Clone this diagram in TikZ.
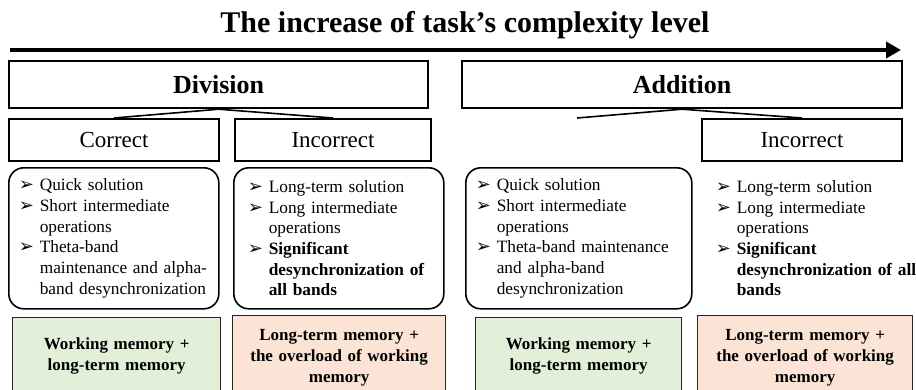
\documentclass[tikz,border=0pt]{standalone}
\usepackage{fontspec}
\setmainfont{Liberation Serif}
\newfontfamily\arrowfont{DejaVu Sans}
\usetikzlibrary{arrows.meta}
\definecolor{MemGreen}{HTML}{E2EFD9}
\definecolor{MemPeach}{HTML}{FBE4D5}
\newcommand{\bul}{\makebox[21pt][l]{\arrowfont\fontsize{18}{18}\selectfont ➢}}
\newcommand{\cnt}{\hspace*{21pt}}

\begin{document}
\begin{tikzpicture}[x=1pt,y=-1pt,
    opbox/.style={draw,line width=2.2pt,minimum height=47pt,inner sep=0pt,
      anchor=north west,font=\bfseries\fontsize{26}{30}\selectfont},
    ansbox/.style={draw,line width=2pt,minimum height=42pt,inner sep=0pt,
      anchor=north west,font=\fontsize{23}{26}\selectfont},
    infobox/.style={rounded corners=15pt,line width=1.6pt,align=left,
      minimum height=141pt,inner ysep=0pt,inner xsep=10pt,anchor=north west,
      font=\fontsize{17.3}{20.7}\selectfont},
    membox/.style={draw=black!85,line width=1.3pt,align=center,
      minimum height=76pt,inner sep=0pt,anchor=north west,
      font=\bfseries\fontsize{17}{20.7}\selectfont},
    link/.style={line width=1.6pt}]
  \useasboundingbox (0,0) rectangle (916,389);
  \clip (0,0) rectangle (916,389);

  \node[anchor=base,font=\bfseries\fontsize{30}{34}\selectfont]
    (title) at (465,32) {The increase of task’s complexity level};
  \coordinate (arrS) at (10,50);
  \coordinate (arrE) at (901,50);
  \draw[line width=4.5pt,-{Triangle[length=15pt,width=16pt]}]
    (arrS) -- (arrE);

  % operations
  \node[opbox,minimum width=419pt] (div) at (8,60) {Division};
  \node[opbox,minimum width=440pt] (add) at (461,60) {Addition};

  % answers
  \node[ansbox,minimum width=210pt] (divc) at (8,118) {Correct};
  \node[ansbox,minimum width=196pt] (divi) at (234,118) {Incorrect};
  \coordinate (addc) at (577,118);
  \node[ansbox,minimum width=200pt] (addi) at (701,118) {Incorrect};

  \draw[link] (div.south) -- (divc.north);
  \draw[link] (div.south) -- (divi.north);
  \draw[link] (add.south) -- (addc);
  \draw[link] (add.south) -- (addi.north);

  % descriptions
  \node[infobox,draw,text width=190pt] (divcinfo) at (8,167)
    {\bul Quick solution\\
     \bul Short intermediate\\
     \cnt operations\\
     \bul Theta-band\\
     \cnt maintenance and alpha-\\
     \cnt band desynchronization};
  \node[infobox,draw,text width=182pt,inner xsep=14pt] (diviinfo) at (233,167)
    {\bul Long-term solution\\
     \bul Long intermediate\\
     \cnt operations\\
     \bul \textbf{Significant}\\
     \cnt\textbf{desynchronization of}\\
     \cnt\textbf{all bands}};
  \node[infobox,draw,text width=206pt] (addcinfo) at (465,167)
    {\bul Quick solution\\
     \bul Short intermediate\\
     \cnt operations\\
     \bul Theta-band maintenance\\
     \cnt and alpha-band\\
     \cnt desynchronization};
  \node[infobox,text width=220pt] (addiinfo) at (705,167)
    {\bul Long-term solution\\
     \bul Long intermediate\\
     \cnt operations\\
     \bul \textbf{Significant}\\
     \cnt\textbf{desynchronization of all}\\
     \cnt\textbf{bands}};

  % memory
  \node[membox,fill=MemGreen,minimum width=208pt,text width=200pt]
    (divcmem) at (12,317) {Working memory +\\ long-term memory};
  \node[membox,fill=MemPeach,minimum width=213pt,text width=205pt,
    minimum height=84pt] (divimem) at (232,315)
    {Long-term memory +\\ the overload of working\\ memory};
  \node[membox,fill=MemGreen,minimum width=206pt,text width=198pt]
    (addcmem) at (475,317) {Working memory +\\ long-term memory};
  \node[membox,fill=MemPeach,minimum width=215pt,text width=207pt,
    minimum height=84pt] (addimem) at (697,315)
    {Long-term memory +\\ the overload of working\\ memory};
\end{tikzpicture}
\end{document}
